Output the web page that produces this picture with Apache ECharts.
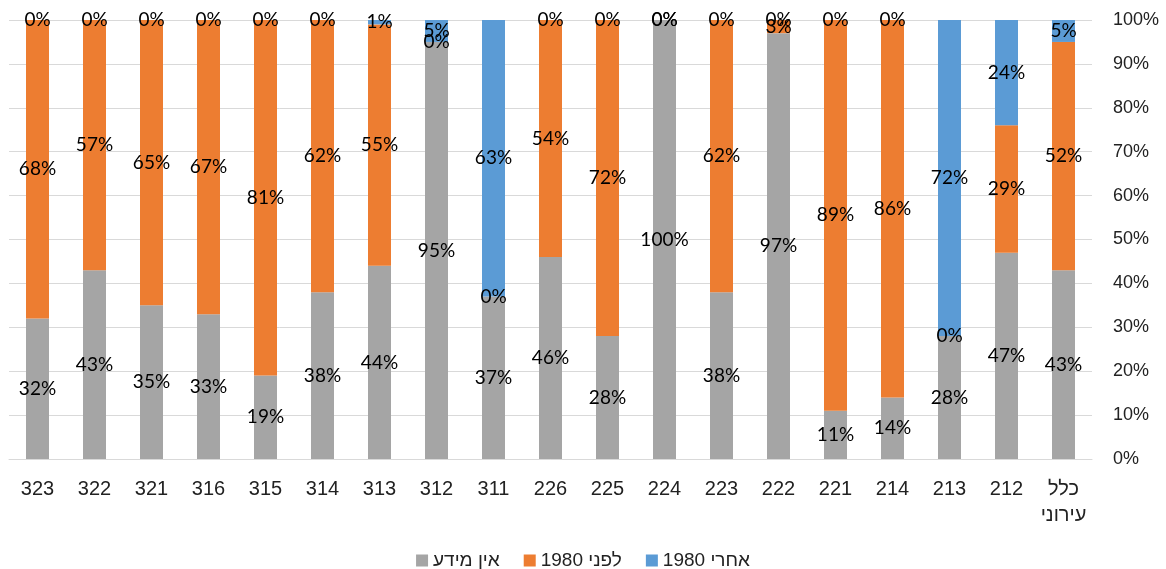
<!DOCTYPE html>
<html>
<head>
<meta charset="utf-8">
<script src="https://cdn.jsdelivr.net/npm/echarts@6/dist/echarts.min.js"></script>
<style>
html,body{margin:0;padding:0;background:#fff;}
#chart{width:1166px;height:569px;}
</style>
</head>
<body>
<div id="chart"></div>
<script>
const categories = ['323','322','321','316','315','314','313','312','311','226','225','224','223','222','221','214','213','212','כלל\nעירוני'];
const noInfo   = [32,43,35,33,19,38,44,95,37,46,28,100,38,97,11,14,28,47,43];
const before80 = [68,57,65,67,81,62,55,0,0,54,72,0,62,3,89,86,0,29,52];
const after80  = [0,0,0,0,0,0,1,5,63,0,0,0,0,0,0,0,72,24,5];
const seriesNames = ['אין מידע','\u202Bלפני 1980\u202C','\u202Bאחרי 1980\u202C'];
const yTicks = [0,10,20,30,40,50,60,70,80,90,100];

const colors = ['#A5A5A5','#ED7D31','#5B9BD5'];
const labelStyle = {show:true, position:'inside', formatter:'{c}%', color:'#000', fontFamily:'Lato, "Open Sans", sans-serif', fontSize:19};
const chart = echarts.init(document.getElementById('chart'));
chart.setOption({
  animation:false,
  color: colors,
  grid:{left:9, right:74, top:20, bottom:110},
  legend:{
    top:546, left:'center', itemWidth:12, itemHeight:12, itemGap:24,
    icon:'rect',
    textStyle:{fontFamily:'"Liberation Sans", Arial, sans-serif', fontSize:19, color:'#222'},
    data: seriesNames
  },
  xAxis:{
    type:'category', data:categories,
    axisLine:{lineStyle:{color:'#d9d9d9'}},
    axisTick:{show:false},
    axisLabel:{color:'#222', fontFamily:'"Liberation Sans", Arial, sans-serif', fontSize:20, margin:17, lineHeight:26, interval:0}
  },
  yAxis:{
    type:'value', position:'right', min:yTicks[0], max:yTicks[yTicks.length-1], interval:10,
    axisLabel:{formatter:'{value}%', color:'#222', fontFamily:'"Liberation Sans", Arial, sans-serif', fontSize:18, margin:21},
    splitLine:{lineStyle:{color:'#d9d9d9', width:1}},
    axisLine:{show:false}, axisTick:{show:false}
  },
  series:[
    {name:seriesNames[0], type:'bar', stack:'s', barWidth:23, data:noInfo, label:labelStyle},
    {name:seriesNames[1], type:'bar', stack:'s', barWidth:23, data:before80, label:labelStyle},
    {name:seriesNames[2], type:'bar', stack:'s', barWidth:23, data:after80, label:labelStyle}
  ]
});
</script>
</body>
</html>
